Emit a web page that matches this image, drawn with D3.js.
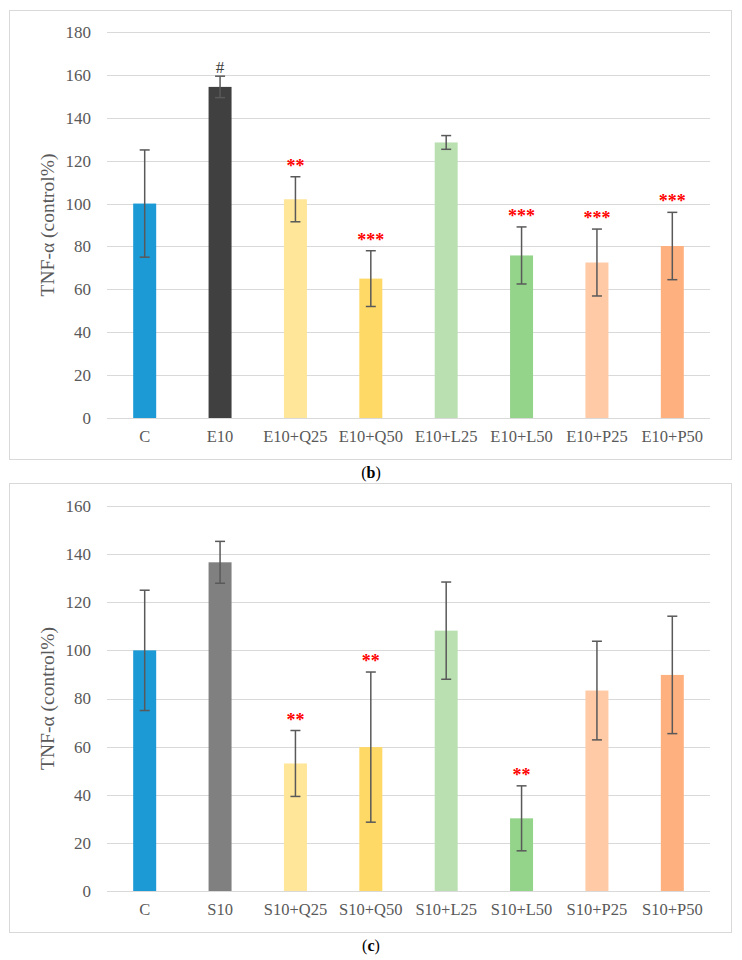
<!DOCTYPE html>
<html>
<head>
<meta charset="utf-8">
<script src="https://cdn.jsdelivr.net/npm/d3@7"></script>
<style>
  body { margin: 0; background: #fff; }
  svg text { font-family: "Liberation Serif", "Times New Roman", serif; }
</style>
</head>
<body>
<svg id="chart" width="742" height="960"></svg>
<script>
// panel (b): E10 series
var catsB = ["C", "E10", "E10+Q25", "E10+Q50", "E10+L25", "E10+L50", "E10+P25", "E10+P50"];
var meanB = [100, 154.4, 102, 65, 128.5, 75.8, 72.5, 80.2];
var errB  = [25, 5, 10.5, 13, 3.2, 13.3, 15.6, 15.7];
var sigB  = ["", "#", "**", "***", "", "***", "***", "***"];
var ticksB = [0, 20, 40, 60, 80, 100, 120, 140, 160, 180];

// panel (c): S10 series
var catsC = ["C", "S10", "S10+Q25", "S10+Q50", "S10+L25", "S10+L50", "S10+P25", "S10+P50"];
var meanC = [100, 136.6, 53, 59.8, 108.2, 30.2, 83.3, 89.8];
var errC  = [25, 8.7, 13.7, 31.2, 20.2, 13.5, 20.5, 24.4];
var sigC  = ["", "", "**", "**", "", "**", "", ""];
var ticksC = [0, 20, 40, 60, 80, 100, 120, 140, 160];

var coloursB = ["#1b9ad6", "#404040", "#ffe699", "#ffd966", "#bae0b1", "#93d38a", "#ffcaa5", "#ffb07f"];
var coloursC = ["#1b9ad6", "#808080", "#ffe699", "#ffd966", "#bae0b1", "#93d38a", "#ffcaa5", "#ffb07f"];

var svg = d3.select("#chart");

function drawPanel(opts) {
    var g = svg.append("g");

    // outer frame
    g.append("rect")
        .attr("x", 9.5).attr("y", opts.boxTop + 0.5)
        .attr("width", 722).attr("height", opts.boxBottom - opts.boxTop)
        .attr("fill", "none").attr("stroke", "#d9d9d9");

    var x = d3.scaleBand().domain(opts.cats).range([107, 710]).paddingInner(0.695).paddingOuter(0.3475);
    var y = d3.scaleLinear().domain([0, opts.ticks[opts.ticks.length - 1]]).range([opts.zeroY, opts.topY]);

    // gridlines
    g.append("g").selectAll("line")
        .data(opts.ticks)
        .enter().append("line")
        .attr("x1", 107).attr("x2", 710)
        .attr("y1", function(d) { return Math.round(y(d)) + 0.5; })
        .attr("y2", function(d) { return Math.round(y(d)) + 0.5; })
        .attr("stroke", "#d9d9d9").attr("stroke-width", 1.2);

    // y tick labels
    g.append("g").selectAll("text")
        .data(opts.ticks)
        .enter().append("text")
        .attr("x", 91).attr("y", function(d) { return y(d); })
        .attr("dy", "0.35em")
        .attr("text-anchor", "end")
        .attr("font-size", 17)
        .attr("fill", "#595959")
        .text(function(d) { return d; });

    // y title
    g.append("text")
        .attr("transform", "translate(54," + ((opts.zeroY + opts.topY) / 2) + ") rotate(-90)")
        .attr("text-anchor", "middle")
        .attr("font-size", 19.5)
        .attr("fill", "#595959")
        .text("TNF-α (control%)");

    // bars
    g.append("g").selectAll("rect")
        .data(opts.means)
        .enter().append("rect")
        .attr("x", function(d, i) { return x(opts.cats[i]); })
        .attr("width", x.bandwidth())
        .attr("y", function(d) { return y(d); })
        .attr("height", function(d) { return y(0) - y(d); })
        .attr("fill", function(d, i) { return opts.colours[i]; });

    // error bars
    var eb = g.append("g").attr("stroke", "#595959").attr("stroke-width", 1.5);
    opts.means.forEach(function(m, i) {
        var cx = x(opts.cats[i]) + x.bandwidth() / 2;
        var lo = y(m - opts.errs[i]), hi = y(m + opts.errs[i]);
        eb.append("line").attr("x1", cx).attr("x2", cx).attr("y1", lo).attr("y2", hi);
        eb.append("line").attr("x1", cx - 5).attr("x2", cx + 5).attr("y1", lo).attr("y2", lo);
        eb.append("line").attr("x1", cx - 5).attr("x2", cx + 5).attr("y1", hi).attr("y2", hi);
    });

    // significance marks
    g.append("g").selectAll("text")
        .data(opts.sig)
        .enter().append("text")
        .attr("x", function(d, i) { return x(opts.cats[i]) + x.bandwidth() / 2; })
        .attr("y", function(d, i) {
            var top = y(opts.means[i] + opts.errs[i]);
            return d === "#" ? top - 3 : top - 5;
        })
        .attr("text-anchor", "middle")
        .attr("font-size", function(d) { return d === "#" ? 17 : 18; })
        .attr("font-weight", function(d) { return d === "#" ? "normal" : "bold"; })
        .attr("fill", function(d) { return d === "#" ? "#404040" : "#ff0000"; })
        .text(function(d) { return d; });

    // x labels
    g.append("g").selectAll("text")
        .data(opts.cats)
        .enter().append("text")
        .attr("x", function(d) { return x(d) + x.bandwidth() / 2; })
        .attr("y", opts.zeroY + 24)
        .attr("text-anchor", "middle")
        .attr("font-size", 16.5)
        .attr("fill", "#595959")
        .text(function(d) { return d; });

    // caption
    var cap = svg.append("text")
        .attr("x", 371).attr("y", opts.capY)
        .attr("text-anchor", "middle")
        .attr("font-size", 16)
        .attr("fill", "#000");
    cap.append("tspan").text("(");
    cap.append("tspan").attr("font-weight", "bold").text(opts.capLetter);
    cap.append("tspan").text(")");
}

drawPanel({
    cats: catsB, means: meanB, errs: errB, sig: sigB, ticks: ticksB, colours: coloursB,
    boxTop: 10, boxBottom: 459, zeroY: 418, topY: 32, capY: 478, capLetter: "b"
});

drawPanel({
    cats: catsC, means: meanC, errs: errC, sig: sigC, ticks: ticksC, colours: coloursC,
    boxTop: 483, boxBottom: 932, zeroY: 891, topY: 506, capY: 951, capLetter: "c"
});
</script>
</body>
</html>
